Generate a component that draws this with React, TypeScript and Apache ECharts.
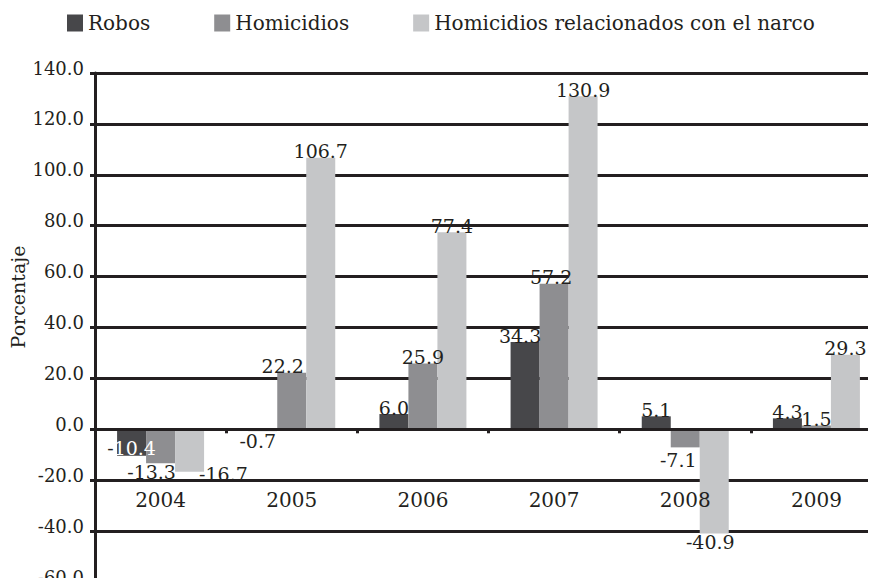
import React, { useEffect, useRef } from "react";
import * as echarts from "echarts";

const years = ["2004", "2005", "2006", "2007", "2008", "2009"];
const seriesNames = ["Robos", "Homicidios", "Homicidios relacionados con el narco"];
const robos = [-10.4, -0.7, 6.0, 34.3, 5.1, 4.3];
const homicidios = [-13.3, 22.2, 25.9, 57.2, -7.1, 1.5];
const narco = [-16.7, 106.7, 77.4, 130.9, -40.9, 29.3];
const colors = ["#47474a", "#8e8e91", "#c5c6c8"];

const FONT = "DejaVu Serif";
const TXT = "#231f20";

// label placement tweaks (series index -> data index -> label options)
const labelTweaks: Record<number, Record<number, any>> = {
  0: {
    0: {
      position: "insideBottom",
      distance: -2,
      formatter: (p: any) => `{d|-}{w|${Math.abs(Number(p.value)).toFixed(1)}}`,
      rich: {
        d: { color: TXT, fontFamily: FONT, fontSize: 19 },
        w: { color: "#ffffff", fontFamily: FONT, fontSize: 19 },
      },
    },
    1: { position: "bottom", distance: 0, offset: [-5, 0] },
    3: { offset: [-5, 0] },
  },
  1: {
    0: { position: "bottom", distance: -1, offset: [-9, 0] },
    1: { offset: [-9, 0] },
    3: { offset: [-3, 0] },
    4: { position: "bottom", distance: 3, offset: [-7, 0] },
  },
  2: {
    0: { position: "right", distance: -5, offset: [0, 23] },
    4: { position: "bottom", distance: -1, offset: [-4, 0] },
  },
};

export default function App() {
  const ref = useRef<HTMLDivElement>(null);
  useEffect(() => {
    if (!ref.current) return;
    const chart = echarts.init(ref.current, null, { renderer: "svg" });
    const all = [robos, homicidios, narco];
    chart.setOption({
      animation: false,
      textStyle: { fontFamily: FONT, color: TXT },
      legend: {
        left: 62,
        top: 8,
        itemWidth: 16,
        itemHeight: 17,
        itemGap: 64,
        icon: "rect",
        textStyle: { fontFamily: FONT, fontSize: 20, color: TXT },
        data: seriesNames,
      },
      grid: {
        left: 95,
        top: 73,
        width: 787,
        height: 509,
        containLabel: false,
        outerBoundsMode: "none",
      },
      xAxis: {
        type: "category",
        data: years,
        z: 3,
        axisLine: { onZero: true, lineStyle: { color: TXT, width: 3 } },
        axisTick: { show: true, length: 4, lineStyle: { color: TXT, width: 3 } },
        axisLabel: { inside: true, margin: 72, fontFamily: FONT, fontSize: 20, color: TXT },
        splitLine: { show: false },
      },
      yAxis: {
        type: "value",
        min: -60,
        max: 140,
        interval: 20,
        axisLine: { show: true, lineStyle: { color: TXT, width: 3 } },
        axisTick: { show: true, length: 5, lineStyle: { color: TXT, width: 3 } },
        axisLabel: {
          margin: 11,
          fontFamily: FONT,
          fontSize: 18,
          color: TXT,
          verticalAlign: "bottom",
          lineHeight: 10,
          formatter: (v: number) => v.toFixed(1),
        },
        splitLine: { show: true, lineStyle: { color: TXT, width: 3 } },
      },
      graphic: [
        {
          type: "text",
          x: 8,
          y: 297,
          rotation: Math.PI / 2,
          style: {
            text: "Porcentaje",
            font: `19px "${FONT}"`,
            fill: TXT,
            align: "center",
            verticalAlign: "top",
          },
        },
      ],
      series: all.map((vals, si) => ({
        name: seriesNames[si],
        type: "bar",
        barWidth: 29,
        barGap: "0%",
        itemStyle: { color: colors[si] },
        label: {
          show: true,
          position: "top",
          distance: -3,
          fontFamily: FONT,
          fontSize: 19,
          color: TXT,
          formatter: (p: any) => Number(p.value).toFixed(1),
        },
        data: vals.map((v, di) => {
          const t = labelTweaks[si] && labelTweaks[si][di];
          return t ? { value: v, label: t } : { value: v };
        }),
      })),
    });
    return () => chart.dispose();
  }, []);
  return <div ref={ref} style={{ width: 876, height: 586, margin: -8 }} />;
}
